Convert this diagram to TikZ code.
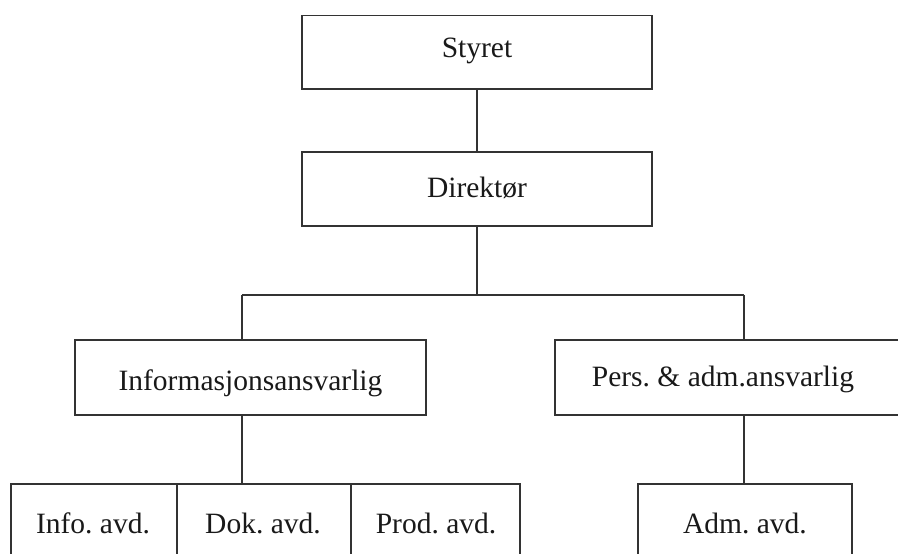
\documentclass[tikz,border=0pt]{standalone}
\usepackage{fontspec}
\setmainfont{Liberation Serif}
\frenchspacing
\begin{document}
\begin{tikzpicture}[x=1pt,y=-1pt,
  box/.style={draw=black!80, line width=1.2pt, rectangle, inner sep=0pt},
  lbl/.style={anchor=base, inner sep=0pt, font=\fontsize{29.5}{35}\selectfont, text=black!90},
  conn/.style={draw=black!80, line width=1.2pt}]
\useasboundingbox (0,0) rectangle (898,554);
\clip (0,0) rectangle (898,554);
% boxes
\node[box, minimum width=350pt, minimum height=73.5pt] (styret) at (477,52.25) {};
\node[box, minimum width=350pt, minimum height=74pt] (dir) at (477,189) {};
\node[box, minimum width=351pt, minimum height=75pt] (info) at (250.5,377.5) {};
\node[box, minimum width=360pt, minimum height=75pt] (pers) at (735,377.5) {};
\node[box, minimum width=166pt, minimum height=90pt] (infoavd) at (94,529) {};
\node[box, minimum width=174pt, minimum height=90pt] (dok) at (264,529) {};
\node[box, minimum width=169pt, minimum height=90pt] (prod) at (435.5,529) {};
\node[box, minimum width=214pt, minimum height=90pt] (adm) at (745,529) {};
% texts
\node[lbl] (tstyret) at (477,57) {Styret};
\node[lbl] (tdir) at (477,197) {Direktør};
\node[lbl] (tinfo) at (250.5,390) {Informasjonsansvarlig};
\node[lbl] (tpers) at (723,386) {Pers. \& adm.ansvarlig};
\node[lbl] (tinfoavd) at (93,533) {Info. avd.};
\node[lbl] (tdok) at (263,533) {Dok. avd.};
\node[lbl] (tprod) at (436,533) {Prod. avd.};
\node[lbl] (tadm) at (745,533) {Adm. avd.};
% connectors
\coordinate (jl) at (242,295);
\coordinate (jr) at (744,295);
\draw[conn] (styret.south) -- (dir.north);
\draw[conn] (dir.south) -- (dir.south |- jl);
\draw[conn] (jl) -- (jr);
\draw[conn] (jl) -- (jl |- info.north);
\draw[conn] (jr) -- (jr |- pers.north);
\draw[conn] (info.south -| jl) -- (jl |- dok.north);
\draw[conn] (pers.south -| jr) -- (jr |- adm.north);
\end{tikzpicture}
\end{document}
